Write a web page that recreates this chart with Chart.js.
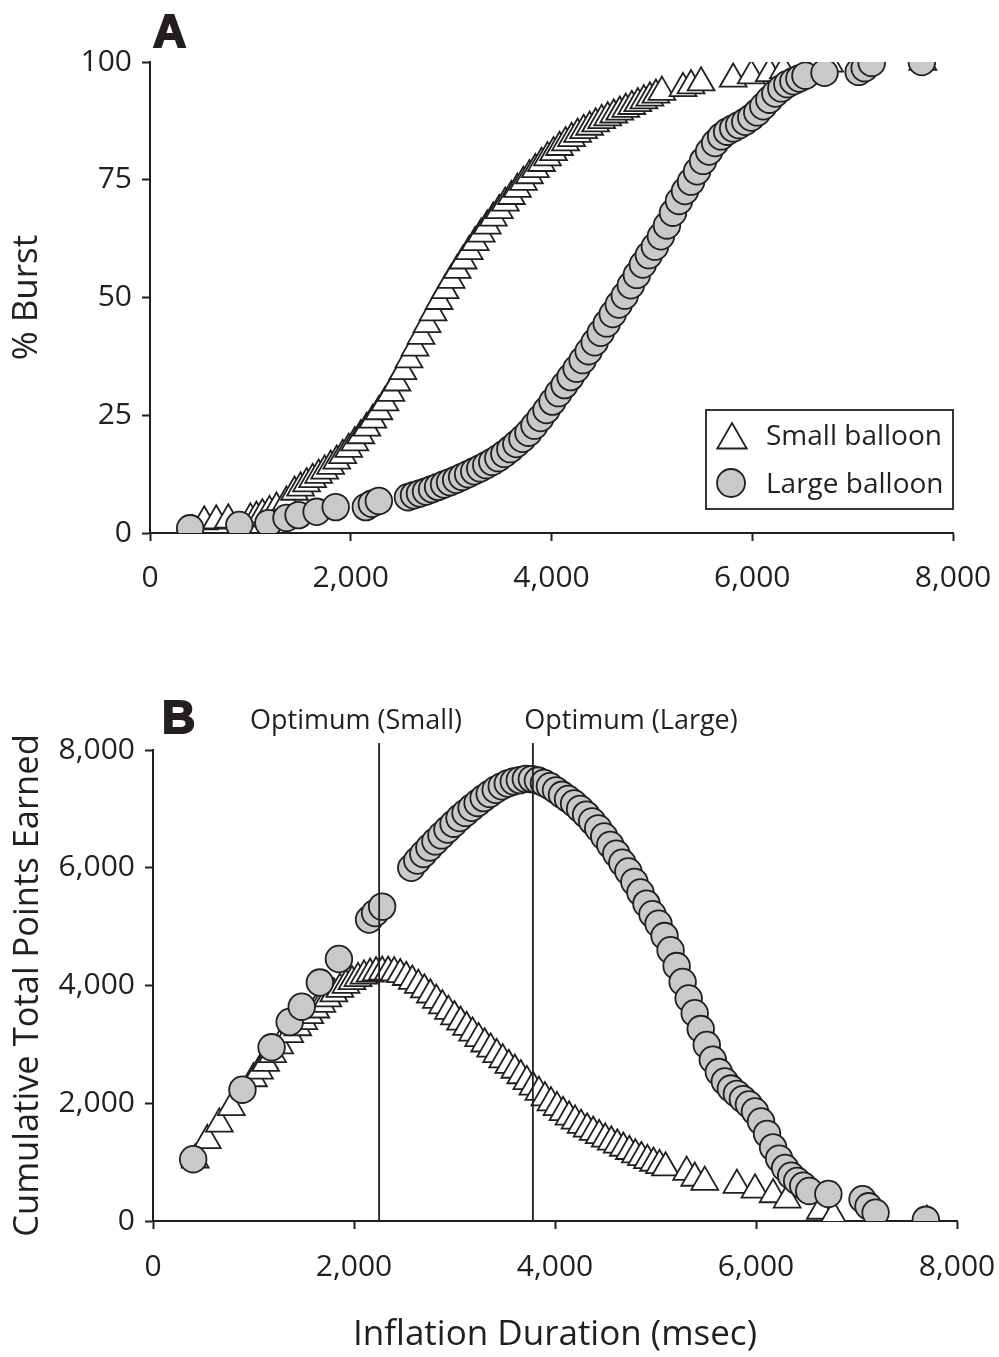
<!DOCTYPE html>
<html>
<head>
<meta charset="utf-8">
<script src="https://cdn.jsdelivr.net/npm/chart.js@4.4.1/dist/chart.umd.min.js"></script>
<style>
  html, body { margin: 0; padding: 0; background: #ffffff; }
  #wrap { position: relative; width: 999px; height: 1357px; overflow: hidden; background: #fff; }
  canvas { position: absolute; left: 0; }
  #cA { top: 0; }
  #cB { top: 640px; }
</style>
</head>
<body>
<div id="wrap">
  <canvas id="cA" width="999" height="640"></canvas>
  <canvas id="cB" width="999" height="717"></canvas>
</div>
<script>
// ---------------- data ----------------
const xTicks = [0, 2000, 4000, 6000, 8000];
const burstTicks = [0, 25, 50, 75, 100];
const pointsTicks = [0, 2000, 4000, 6000, 8000];
const seriesNames = ['Small balloon', 'Large balloon'];
const optimumX = [2250, 3780];
const optimumLabels = ['Optimum (Small)', 'Optimum (Large)'];

const smallX = [420, 540, 660, 780, 1000, 1060, 1120, 1190, 1260, 1360,
  1440, 1500, 1560, 1620, 1680, 1740, 1800, 1860, 1920, 1980,
  2040, 2100, 2160, 2220, 2280, 2340, 2400, 2460, 2520, 2580,
  2640, 2700, 2760, 2820, 2880, 2940, 3000, 3060, 3120, 3180,
  3240, 3300, 3360, 3420, 3480, 3540, 3600, 3660, 3720, 3780,
  3840, 3900, 3960, 4020, 4080, 4140, 4200, 4260, 4320, 4380,
  4440, 4500, 4560, 4620, 4680, 4740, 4800, 4860, 4920, 4980,
  5040, 5100,
  5310, 5390, 5490, 5810, 5990, 6170, 6310, 6640, 6770, 7700];

const smallBurst = [0.5, 2.4, 2.6, 2.8, 3.0, 3.4, 3.9, 4.6, 5.3, 6.6,
  8.7, 9.6, 10.5, 11.4, 12.3, 13.2, 14.2, 15.3, 16.5, 17.8,
  19.2, 20.7, 22.3, 24.0, 25.8, 27.7, 29.7, 31.9, 34.3, 36.8,
  39.3, 41.8, 44.3, 46.8, 49.2, 51.5, 53.7, 55.8, 57.8, 59.8,
  61.7, 63.5, 65.2, 66.9, 68.5, 70.1, 71.5, 73.0, 74.5, 75.9,
  77.2, 78.5, 79.7, 80.8, 81.9, 82.9, 83.8, 84.7, 85.5, 86.2,
  86.9, 87.6, 88.2, 88.8, 89.4, 90.0, 90.6, 91.2, 91.8, 92.4,
  93.0, 93.6,
  94.4, 95.0, 95.6, 96.4, 97.1, 97.6, 98.2, 99.0, 99.6, 100];

const smallPoints = [1040, 1370, 1650, 1930, 2420, 2550, 2680, 2830, 2980, 3170,
  3287, 3390, 3491, 3588, 3683, 3776, 3861, 3939, 4008, 4069,
  4121, 4163, 4196, 4218, 4229, 4230, 4218, 4188, 4140, 4076,
  4006, 3929, 3843, 3751, 3658, 3565, 3473, 3381, 3292, 3196,
  3102, 3011, 2923, 2830, 2741, 2646, 2565, 2471, 2372, 2277,
  2189, 2096, 2010, 1930, 1846, 1770, 1701, 1629, 1566, 1511,
  1454, 1395, 1345, 1294, 1240, 1185, 1128, 1080, 1030, 985,
  945, 905,
  830, 730, 660, 610, 530, 450, 360, 170, 80, 0];

const largeX = [400, 890, 1180, 1360, 1480, 1660, 1850, 2150, 2210, 2280, 2570,
  2630, 2690, 2750, 2810, 2870, 2930, 2990, 3050, 3110, 3170,
  3230, 3290, 3350, 3410, 3470, 3530, 3590, 3650, 3710, 3770,
  3830, 3890, 3950, 4010, 4070, 4130, 4190, 4250, 4310, 4370,
  4430, 4490, 4550, 4610, 4670, 4730, 4790, 4850, 4910, 4970,
  5030, 5090, 5150, 5210, 5270, 5330, 5390, 5450, 5510, 5570,
  5630, 5690, 5750, 5810, 5870, 5930, 5990, 6050, 6110, 6170,
  6230, 6290, 6350, 6410, 6470, 6530,
  6720, 7060, 7120, 7190, 7690];

const largeBurst = [1.0, 1.7, 2.1, 3.2, 3.8, 4.5, 5.5, 5.5, 6.2, 6.8, 7.6,
  8.0, 8.4, 8.8, 9.3, 9.8, 10.3, 10.8, 11.3, 11.9, 12.5,
  13.1, 13.7, 14.4, 15.1, 15.9, 16.8, 17.8, 18.9, 20.0, 21.3,
  22.8, 24.4, 26.1, 27.9, 29.7, 31.4, 33.1, 34.9, 36.7, 38.6,
  40.5, 42.5, 44.5, 46.5, 48.5, 50.4, 52.6, 54.8, 57.0, 59.0,
  60.8, 63.0, 65.3, 68.0, 70.5, 72.6, 74.6, 76.8, 79.0, 81.0,
  82.8, 84.2, 85.2, 85.9, 86.6, 87.3, 88.2, 89.3, 90.6, 92.0,
  93.3, 94.4, 95.3, 95.9, 96.5, 97.1,
  97.7, 97.9, 98.7, 99.8, 100];

const largePoints = [1050, 2230, 2950, 3380, 3640, 4050, 4450, 5120, 5230, 5340, 6000,
  6122, 6234, 6345, 6448, 6550, 6649, 6748, 6845, 6932, 7018,
  7101, 7183, 7255, 7325, 7383, 7431, 7466, 7489, 7509, 7506,
  7481, 7440, 7385, 7315, 7239, 7168, 7092, 7000, 6902, 6788,
  6669, 6532, 6389, 6240, 6085, 5936, 5760, 5580, 5390, 5210,
  5050, 4840, 4600, 4330, 4060, 3780, 3530, 3260, 2990, 2740,
  2530, 2370, 2250, 2160, 2070, 1980, 1860, 1690, 1480, 1250,
  1060, 900, 770, 680, 600, 510,
  460, 370, 250, 140, 20];

// ---------------- styling ----------------
const ink = '#231f20';
const grayFill = '#c8c9cb';
const FONT = "'Open Sans', 'DejaVu Sans', sans-serif";
const HEAVY = "bold 46px 'Liberation Sans', Arial, sans-serif";

function pairs(xs, ys) { return xs.map((x, i) => ({ x: x, y: ys[i] })); }
function fmt(v) { return Number(v).toLocaleString('en-US'); }

function axis(ticksArr, min, max, fit, pad, title) {
  const s = {
    type: 'linear', min: min, max: max,
    afterBuildTicks: sc => { sc.ticks = ticksArr.map(v => ({ value: v })); },
    afterFit: sc => { fit(sc); sc.paddingLeft = 0; sc.paddingRight = 0; sc.paddingTop = 0; sc.paddingBottom = 0; },
    grid: { display: true, drawOnChartArea: false, drawTicks: true, tickLength: 8, tickWidth: 2, tickColor: ink },
    border: { display: true, color: ink, width: 2 },
    ticks: { color: ink, font: { family: FONT, size: 30 }, padding: pad, maxRotation: 0, minRotation: 0, autoSkip: false, callback: v => fmt(v) }
  };
  if (title) s.title = title;
  return s;
}

function smallDs(data) {
  return { label: seriesNames[0], data: data, pointStyle: 'triangle', pointRadius: 15.5, pointHoverRadius: 15.5,
    backgroundColor: '#ffffff', borderColor: ink, pointBorderWidth: 1.8, borderWidth: 1.8, showLine: false, order: 2 };
}
function largeDs(data) {
  return { label: seriesNames[1], data: data, pointStyle: 'circle', pointRadius: 13.3, pointHoverRadius: 13.3,
    backgroundColor: grayFill, borderColor: ink, pointBorderWidth: 1.8, borderWidth: 1.8, showLine: false, order: 1 };
}

function drawTriangle(ctx, x, y, r) {
  ctx.beginPath();
  ctx.moveTo(x, y - r);
  ctx.lineTo(x + r * Math.sin(2 * Math.PI / 3), y - r * Math.cos(2 * Math.PI / 3));
  ctx.lineTo(x + r * Math.sin(4 * Math.PI / 3), y - r * Math.cos(4 * Math.PI / 3));
  ctx.closePath();
  ctx.fillStyle = '#fff'; ctx.fill();
  ctx.strokeStyle = ink; ctx.lineWidth = 1.8; ctx.stroke();
}
function drawCircle(ctx, x, y, r) {
  ctx.beginPath(); ctx.arc(x, y, r, 0, Math.PI * 2);
  ctx.fillStyle = grayFill; ctx.fill();
  ctx.strokeStyle = ink; ctx.lineWidth = 1.8; ctx.stroke();
}

const decorA = {
  id: 'decorA',
  afterDraw(chart) {
    const ctx = chart.ctx;
    ctx.save();
    ctx.fillStyle = ink; ctx.strokeStyle = ink; ctx.lineWidth = 2;
    ctx.font = HEAVY; ctx.textAlign = 'left'; ctx.textBaseline = 'alphabetic';
    ctx.fillText('A', 153, 47); ctx.strokeText('A', 153, 47);
    ctx.lineWidth = 1.8; ctx.strokeStyle = ink;
    ctx.strokeRect(706, 410, 247, 99);
    drawTriangle(ctx, 732, 440, 17);
    drawCircle(ctx, 731, 483, 14);
    ctx.fillStyle = ink;
    ctx.font = "28px " + FONT;
    ctx.fillText(seriesNames[0], 766, 445);
    ctx.fillText(seriesNames[1], 766, 493);
    ctx.restore();
  }
};

const decorB = {
  id: 'decorB',
  afterDraw(chart) {
    const ctx = chart.ctx;
    ctx.save();
    ctx.fillStyle = ink; ctx.strokeStyle = ink; ctx.lineWidth = 2;
    ctx.font = HEAVY; ctx.textAlign = 'left'; ctx.textBaseline = 'alphabetic';
    ctx.fillText('B', 162, 93); ctx.strokeText('B', 162, 93);
    ctx.font = "27px " + FONT;
    ctx.textAlign = 'center';
    ctx.fillText(optimumLabels[0], 356, 89);
    ctx.fillText(optimumLabels[1], 631, 89);
    ctx.restore();
  }
};

const common = {
  responsive: false, animation: false, devicePixelRatio: 1,
  plugins: { legend: { display: false }, tooltip: { enabled: false } },
  events: []
};

// ---------------- Panel A ----------------
new Chart(document.getElementById('cA'), {
  type: 'scatter',
  data: { datasets: [ smallDs(pairs(smallX, smallBurst)), largeDs(pairs(largeX, largeBurst)) ] },
  options: Object.assign({}, common, {
    layout: { padding: { top: 62, right: 46, left: 0, bottom: 0 } },
    scales: {
      x: axis(xTicks, 0, 8000, s => { s.height = 107; }, 19),
      y: axis(burstTicks, 0, 100, s => { s.width = 150; }, 10,
        { display: true, text: '% Burst', color: ink, font: { family: FONT, size: 35 }, padding: { top: 6, bottom: 0 } })
    }
  }),
  plugins: [decorA]
});

// ---------------- Panel B ----------------
const optimumDs = optimumX.map(v => ({
  type: 'line', label: 'optimum', data: [{ x: v, y: 0 }, { x: v, y: 8120 }],
  borderColor: ink, borderWidth: 1.8, pointRadius: 0, showLine: true, fill: false, clip: false, order: 0
}));

new Chart(document.getElementById('cB'), {
  type: 'scatter',
  data: { datasets: [ smallDs(pairs(smallX, smallPoints)), largeDs(pairs(largeX, largePoints)) ].concat(optimumDs) },
  options: Object.assign({}, common, {
    layout: { padding: { top: 110, right: 42, left: 0, bottom: 0 } },
    scales: {
      x: axis(xTicks, 0, 8000, s => { s.height = 136; }, 20,
        { display: true, text: 'Inflation Duration (msec)', color: ink, font: { family: FONT, size: 35 }, padding: { top: 0, bottom: 1 } }),
      y: axis(pointsTicks, 0, 8000, s => { s.width = 153; }, 10,
        { display: true, text: 'Cumulative Total Points Earned', color: ink, font: { family: FONT, size: 34.5 }, padding: { top: 7, bottom: 0 } })
    }
  }),
  plugins: [decorB]
});
</script>
</body>
</html>
